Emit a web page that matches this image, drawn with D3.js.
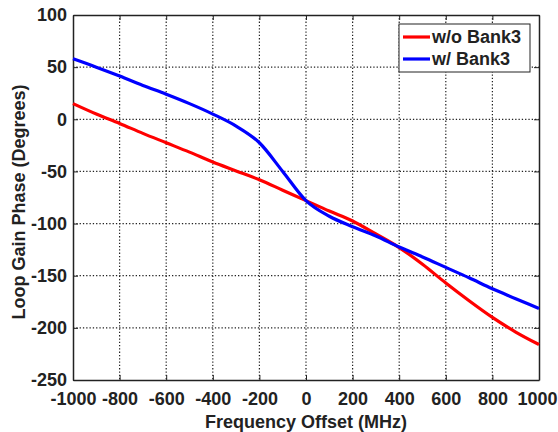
<!DOCTYPE html>
<html><head><meta charset="utf-8">
<script src="https://cdn.jsdelivr.net/npm/d3@7"></script>
<style>
body{margin:0;background:#fff;}
text{font-family:"Liberation Sans",Arial,sans-serif;font-weight:bold;fill:#222;}
</style></head>
<body><svg id="c" width="558" height="432"></svg>
<script>
const freq = [-1000,-900,-800,-700,-600,-500,-400,-300,-200,-100,0,100,200,300,400,500,600,700,800,900,1000];
const withoutBank3 = [15,5,-4,-13.5,-22.5,-31.5,-41,-49.5,-58,-68,-78,-88,-97.5,-110,-123,-139,-157,-174,-190,-204,-216];
const withBank3 = [58,50,41.5,32.5,24,15,5,-6.5,-22.5,-50,-78,-93,-103,-112,-122.5,-132,-142,-152,-162.5,-172,-181.5];
const seriesNames = ["w/o Bank3","w/ Bank3"];
const seriesColors = ["#ff0000","#0000ff"];
const xTicks = [-1000,-800,-600,-400,-200,0,200,400,600,800,1000];
const yTicks = [-250,-200,-150,-100,-50,0,50,100];

const svg = d3.select("#c");
const m = {l:73,r:539,t:15,b:380};
const x = d3.scaleLinear().domain([-1000,1000]).range([m.l,m.r]);
const y = d3.scaleLinear().domain([-250,100]).range([m.b,m.t]);
const fs = "18px";

// grid
const g = svg.append("g");
g.selectAll(".vg").data(xTicks.slice(1,-1)).enter().append("line")
  .attr("x1",d=>x(d)).attr("x2",d=>x(d)).attr("y1",m.t).attr("y2",m.b)
  .attr("stroke","#222").attr("stroke-width",1.2).attr("stroke-dasharray","1.3,2");
g.selectAll(".hg").data(yTicks.slice(1,-1)).enter().append("line")
  .attr("y1",d=>y(d)).attr("y2",d=>y(d)).attr("x1",m.l).attr("x2",m.r)
  .attr("stroke","#222").attr("stroke-width",1.2).attr("stroke-dasharray","1.3,2");

// axes
const fmt = d=>String(d);
const xa = svg.append("g").attr("transform",`translate(0,${m.b})`)
  .call(d3.axisBottom(x).tickValues(xTicks).tickFormat(fmt).tickSizeInner(-5).tickSizeOuter(0).tickPadding(12));
const ya = svg.append("g").attr("transform",`translate(${m.l},0)`)
  .call(d3.axisLeft(y).tickValues(yTicks).tickFormat(fmt).tickSizeInner(-5).tickSizeOuter(0).tickPadding(6));
svg.append("g").attr("transform",`translate(0,${m.t})`)
  .call(d3.axisTop(x).tickValues(xTicks).tickSizeInner(-5).tickSizeOuter(0).tickFormat(""));
svg.append("g").attr("transform",`translate(${m.r},0)`)
  .call(d3.axisRight(y).tickValues(yTicks).tickSizeInner(-5).tickSizeOuter(0).tickFormat(""));
svg.selectAll(".domain").attr("stroke","#222").attr("stroke-width",1.5);
svg.selectAll(".tick line").attr("stroke","#222").attr("stroke-width",1);
svg.selectAll(".tick text").style("font-size",fs).style("font-weight","bold").attr("fill","#222")
  .style("font-family","'Liberation Sans',Arial,sans-serif");
xa.selectAll(".tick text").attr("dy","0.71em");
xa.selectAll(".tick text").filter(d=>d===1000).attr("dx","-2");

// lines
const line = d3.line().x((d,i)=>x(freq[i])).y(d=>y(d)).curve(d3.curveMonotoneX);
[withoutBank3,withBank3].forEach((s,k)=>{
  svg.append("path").datum(s).attr("d",line).attr("fill","none")
    .attr("stroke",seriesColors[k]).attr("stroke-width",3.2);
});

// labels
svg.append("text").attr("x",(m.l+m.r)/2).attr("y",428).attr("text-anchor","middle")
  .style("font-size",fs).text("Frequency Offset (MHz)");
svg.append("text").attr("transform",`translate(25,202) rotate(-90)`)
  .attr("text-anchor","middle").style("font-size",fs).text("Loop Gain Phase (Degrees)");

// legend
const lg = svg.append("g");
lg.append("rect").attr("x",399).attr("y",24).attr("width",131).attr("height",48)
  .attr("fill","#fff").attr("stroke","#222").attr("stroke-width",1);
seriesNames.forEach((n,k)=>{
  const yy = 37 + k*22;
  lg.append("line").attr("x1",403).attr("x2",430).attr("y1",yy).attr("y2",yy)
    .attr("stroke",seriesColors[k]).attr("stroke-width",3.2);
  lg.append("text").attr("x",432).attr("y",yy).attr("dy","0.35em")
    .style("font-size",fs).text(n);
});
</script></body></html>
